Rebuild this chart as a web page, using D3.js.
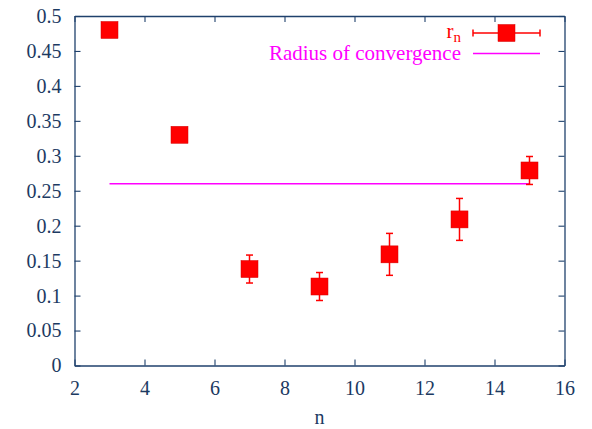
<!DOCTYPE html>
<html>
<head>
<meta charset="utf-8">
<script src="https://cdn.jsdelivr.net/npm/d3@7"></script>
<style>
  html, body { margin: 0; padding: 0; background: #fff; }
  svg { display: block; }
</style>
</head>
<body>
<svg id="chart" width="592" height="429"></svg>
<script>
// Estimates r_n of the radius of convergence for each order n
const orders = [3, 5, 7, 9, 11, 13, 15];
const rValues = [0.48, 0.33, 0.138, 0.113, 0.159, 0.209, 0.279];
const rErrors = [0.004, 0.004, 0.02, 0.02, 0.03, 0.03, 0.02];
const convergenceRadius = 0.26;
const convergenceRange = [3, 15];
const xTicks = [2, 4, 6, 8, 10, 12, 14, 16];
const yTicks = [0, 0.05, 0.1, 0.15, 0.2, 0.25, 0.3, 0.35, 0.4, 0.45, 0.5];

const FONT = "'Liberation Serif', 'Times New Roman', Times, serif";
const axisColor = "#1f416c";
const labelColor = "#1c3a62";
const red = "#ff0000";
const magenta = "#ff00ff";

const svg = d3.select("#chart").attr("font-family", FONT);
const m = { left: 74.5, right: 27.5, top: 16, bottom: 63.5 };
const W = 592, H = 429;

const x = d3.scaleLinear().domain([2, 16]).range([m.left, W - m.right]);
const y = d3.scaleLinear().domain([0, 0.5]).range([H - m.bottom, m.top]);

const fmt = d => String(d);

// frame with inward ticks on all four sides
function styleAxis(g) {
  g.attr("font-family", FONT).attr("font-size", 20);
  g.select(".domain").attr("stroke", axisColor).attr("stroke-width", 1.3);
  g.selectAll(".tick line").attr("stroke", axisColor).attr("stroke-width", 1.1);
  g.selectAll(".tick text").attr("fill", labelColor).attr("font-family", FONT).attr("font-size", 20);
}

svg.append("g")
  .attr("transform", `translate(0,${y(0)})`)
  .call(d3.axisBottom(x).tickValues(xTicks).tickFormat(fmt).tickSizeInner(-6).tickSizeOuter(0).tickPadding(15))
  .call(styleAxis);

svg.append("g")
  .attr("transform", `translate(0,${y(0.5)})`)
  .call(d3.axisTop(x).tickValues(xTicks).tickFormat("").tickSizeInner(-6).tickSizeOuter(0))
  .call(styleAxis);

svg.append("g")
  .attr("transform", `translate(${x(2)},0)`)
  .call(d3.axisLeft(y).tickValues(yTicks).tickFormat(fmt).tickSizeInner(-6).tickSizeOuter(0).tickPadding(13))
  .call(styleAxis);

svg.append("g")
  .attr("transform", `translate(${x(16)},0)`)
  .call(d3.axisRight(y).tickValues(yTicks).tickFormat("").tickSizeInner(-6).tickSizeOuter(0))
  .call(styleAxis);

// axis title
svg.append("text")
  .attr("x", (x(2) + x(16)) / 2)
  .attr("y", 424)
  .attr("text-anchor", "middle")
  .attr("fill", labelColor)
  .attr("font-family", FONT)
  .attr("font-size", 20)
  .text("n");

// radius of convergence line
svg.append("line")
  .attr("x1", x(convergenceRange[0])).attr("x2", x(convergenceRange[1]))
  .attr("y1", y(convergenceRadius)).attr("y2", y(convergenceRadius))
  .attr("stroke", magenta).attr("stroke-width", 1.5);

// error bars and square markers
const pts = orders.map((n, i) => ({ n, r: rValues[i], e: rErrors[i] }));
const cap = 3.5;
const eb = svg.append("g").attr("stroke", red).attr("stroke-width", 1.5);
pts.forEach(p => {
  const cx = x(p.n), yt = y(p.r + p.e), yb = y(p.r - p.e);
  eb.append("line").attr("x1", cx).attr("x2", cx).attr("y1", yt).attr("y2", yb);
  eb.append("line").attr("x1", cx - cap).attr("x2", cx + cap).attr("y1", yt).attr("y2", yt);
  eb.append("line").attr("x1", cx - cap).attr("x2", cx + cap).attr("y1", yb).attr("y2", yb);
});

const sq = 17;
svg.append("g").selectAll("rect").data(pts).join("rect")
  .attr("x", d => x(d.n) - sq / 2)
  .attr("y", d => y(d.r) - sq / 2)
  .attr("width", sq).attr("height", sq)
  .attr("fill", red)
  .attr("stroke", "#d40000").attr("stroke-width", 0.5);

// legend
const lg = svg.append("g");
const lx1 = 473, lx2 = 540, ly1 = 33, ly2 = 53.5;
const lt = lg.append("text")
  .attr("x", 461).attr("y", 38)
  .attr("text-anchor", "end")
  .attr("fill", red)
  .attr("font-family", FONT)
  .attr("font-size", 21);
lt.append("tspan").text("r");
lt.append("tspan").attr("dy", 4).attr("font-size", 15).text("n");

const lg1 = lg.append("g").attr("stroke", red).attr("stroke-width", 1.5);
lg1.append("line").attr("x1", lx1).attr("x2", lx2).attr("y1", ly1).attr("y2", ly1);
lg1.append("line").attr("x1", lx1).attr("x2", lx1).attr("y1", ly1 - cap).attr("y2", ly1 + cap);
lg1.append("line").attr("x1", lx2).attr("x2", lx2).attr("y1", ly1 - cap).attr("y2", ly1 + cap);
lg.append("rect")
  .attr("x", (lx1 + lx2) / 2 - sq / 2).attr("y", ly1 - sq / 2)
  .attr("width", sq).attr("height", sq)
  .attr("fill", red).attr("stroke", "#d40000").attr("stroke-width", 0.5);

lg.append("text")
  .attr("x", 461).attr("y", 60)
  .attr("text-anchor", "end")
  .attr("fill", magenta)
  .attr("font-family", FONT)
  .attr("font-size", 21)
  .text("Radius of convergence");
lg.append("line")
  .attr("x1", lx1).attr("x2", lx2).attr("y1", ly2).attr("y2", ly2)
  .attr("stroke", magenta).attr("stroke-width", 1.5);
</script>
</body>
</html>
